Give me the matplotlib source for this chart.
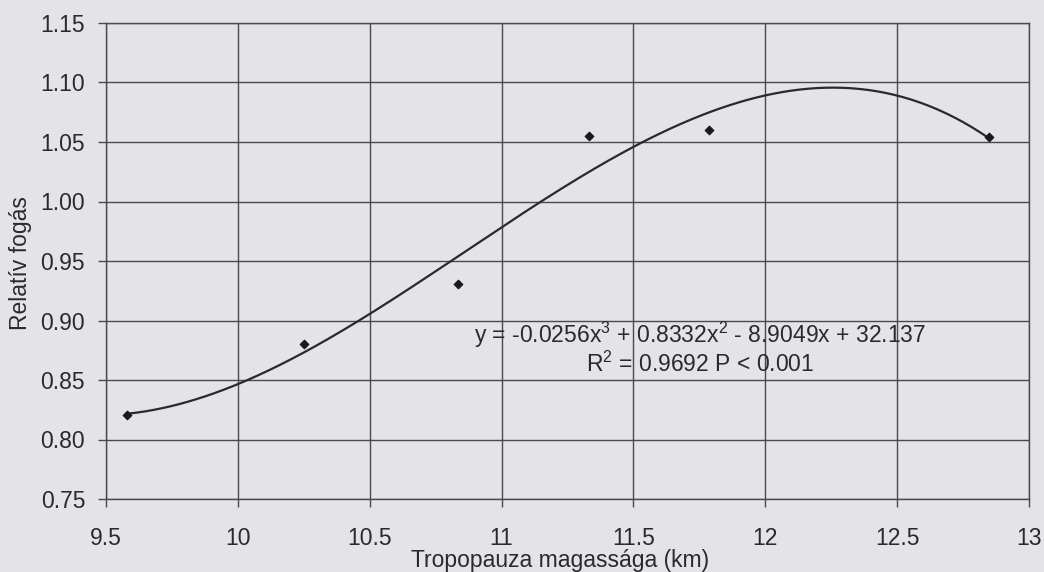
import numpy as np
import matplotlib
matplotlib.use('Agg')
import matplotlib.pyplot as plt

# Datos
tropopauza_km = [9.58, 10.25, 10.835, 11.33, 11.785, 12.85]
relativ_fogas = [0.821, 0.880, 0.931, 1.055, 1.060, 1.054]

x_ticks = [9.5, 10, 10.5, 11, 11.5, 12, 12.5, 13]
x_labels = ['9.5', '10', '10.5', '11', '11.5', '12', '12.5', '13']
y_ticks = [0.75, 0.80, 0.85, 0.90, 0.95, 1.00, 1.05, 1.10, 1.15]

egyenlet = 'y = -0.0256x$^3$ + 0.8332x$^2$ - 8.9049x + 32.137'
r2_szoveg = 'R$^2$ = 0.9692 P < 0.001'

plt.rcParams['font.family'] = ['Liberation Sans', 'DejaVu Sans']
plt.rcParams['mathtext.fontset'] = 'custom'
plt.rcParams['mathtext.rm'] = 'Liberation Sans'

hatter = '#e4e3e8'
fs = 16.5
fig = plt.figure(figsize=(10.44, 5.72), dpi=100, facecolor=hatter)
ax = fig.add_axes([106 / 1044, 1 - 499 / 572, (1029 - 106) / 1044, (499 - 23) / 572])
ax.set_facecolor(hatter)

# Trendvonal (harmadfoku polinom) az adatokbol
coef = np.polyfit(tropopauza_km, relativ_fogas, 3)
xs = np.linspace(min(tropopauza_km), max(tropopauza_km), 300)
ax.plot(xs, np.polyval(coef, xs), color='#2a2a2a', lw=1.6, zorder=3)
ax.scatter(tropopauza_km, relativ_fogas, marker='D', s=18, color='#1a1a1a', zorder=4)

ax.set_xlim(9.5, 13)
ax.set_ylim(0.75, 1.15)
ax.set_xticks(x_ticks)
ax.set_xticklabels(x_labels)
ax.set_yticks(y_ticks)
ax.set_yticklabels(['%.2f' % v for v in y_ticks])
ax.grid(True, color='#4a4a4a', lw=1.0)
ax.set_axisbelow(True)
for s in ax.spines.values():
    s.set_color('#4a4a4a')
    s.set_linewidth(1.0)
ax.tick_params(axis='both', labelsize=fs, color='#4a4a4a', length=6, width=1.0,
               labelcolor='#2a2a2a')
ax.tick_params(axis='x', pad=14)
ax.tick_params(axis='y', pad=9)

# Egyenlet szovege (abra pixelben)
fig.text(700 / 1044, 1 - 335 / 572, egyenlet, fontsize=fs, ha='center', va='center', color='#2a2a2a')
fig.text(700 / 1044, 1 - 364 / 572, r2_szoveg, fontsize=fs, ha='center', va='center', color='#2a2a2a')

fig.text(560 / 1044, 1 - 567 / 572, 'Tropopauza magassága (km)', fontsize=fs,
         ha='center', va='baseline', color='#2a2a2a')
fig.text(21 / 1044, 1 - 263 / 572, 'Relatív fogás', fontsize=fs, rotation=90,
         ha='center', va='center', color='#2a2a2a')

fig.savefig('out.png', dpi=100, facecolor=hatter)
